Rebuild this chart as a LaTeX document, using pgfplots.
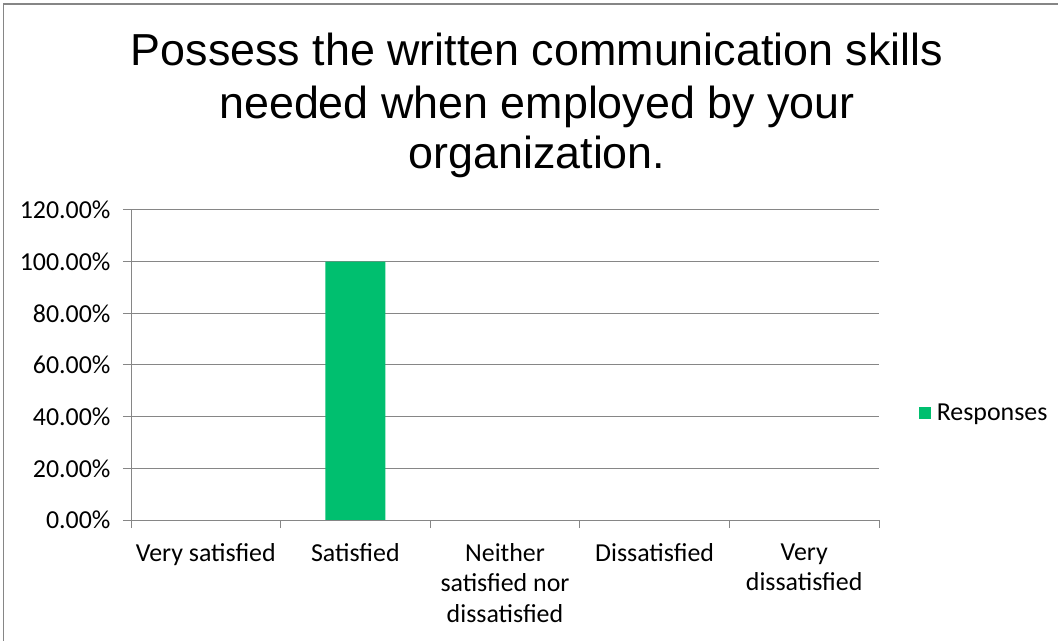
\documentclass[border=0pt]{standalone}
\usepackage{pgfplots}
\pgfplotsset{compat=1.18}
\usepackage{fontspec}
\setmainfont{Carlito}
\newfontfamily\titlefont{Liberation Sans}
\definecolor{barg}{RGB}{0,191,111}
\definecolor{gridg}{RGB}{134,134,134}
\begin{document}
\begin{tikzpicture}
\useasboundingbox (0,0) rectangle (1058bp,641bp);
\draw[gridg,line width=1.5bp] (3.5bp,0) -- (3.5bp,637bp) -- (1060bp,637bp);
\node[font=\titlefont\fontsize{45}{53}\selectfont,anchor=base] at (537bp,575bp) {Possess the written communication skills};
\node[font=\titlefont\fontsize{45}{53}\selectfont,anchor=base] at (537bp,522bp) {needed when employed by your};
\node[font=\titlefont\fontsize{45}{53}\selectfont,anchor=base] at (537bp,472bp) {organization.};
\begin{axis}[
  at={(131bp,121bp)}, anchor=south west,
  scale only axis, width=748bp, height=310bp,
  xmin=-0.5, xmax=4.5, ymin=0, ymax=120,
  axis lines*=left,
  axis line style={gridg,line width=1bp},
  ytick={0,20,...,120},
  yticklabel={\pgfmathprintnumber[fixed,fixed zerofill,precision=2]{\tick}\%},
  ymajorgrids, grid style={gridg,line width=1bp},
  tick align=outside, major tick length=8bp,
  tick style={gridg,line width=1bp},
  xtick={-0.5,0.5,1.5,2.5,3.5,4.5},
  xticklabels={},
  extra x ticks={0,1,2,3,4},
  extra x tick labels={Very satisfied,Satisfied,Neither\\satisfied nor\\dissatisfied,Dissatisfied,Very\\dissatisfied},
  extra x tick style={grid=none, major tick length=0pt,
    xticklabel style={align=center, font=\fontsize{26}{30.5}\selectfont, yshift=-20bp}},
  yticklabel style={font=\fontsize{26}{30}\selectfont, xshift=-9bp},
  /pgf/number format/assume math mode=true,
  ybar, bar width=60bp,
  legend style={at={(rel axis cs:1.049,0.345)}, anchor=west, draw=none, fill=none, font=\fontsize{26}{30}\selectfont,
    /tikz/every even column/.append style={column sep=0bp}},
  legend image code/.code={\fill[barg] (0bp,-6bp) rectangle (12bp,6bp);},
  legend cell align=left,
]
\addplot[fill=barg, draw=none] coordinates {(0,0) (1,100) (2,0) (3,0) (4,0)};
\addlegendentry{\hspace{4bp}Responses}
\end{axis}
\end{tikzpicture}
\end{document}
